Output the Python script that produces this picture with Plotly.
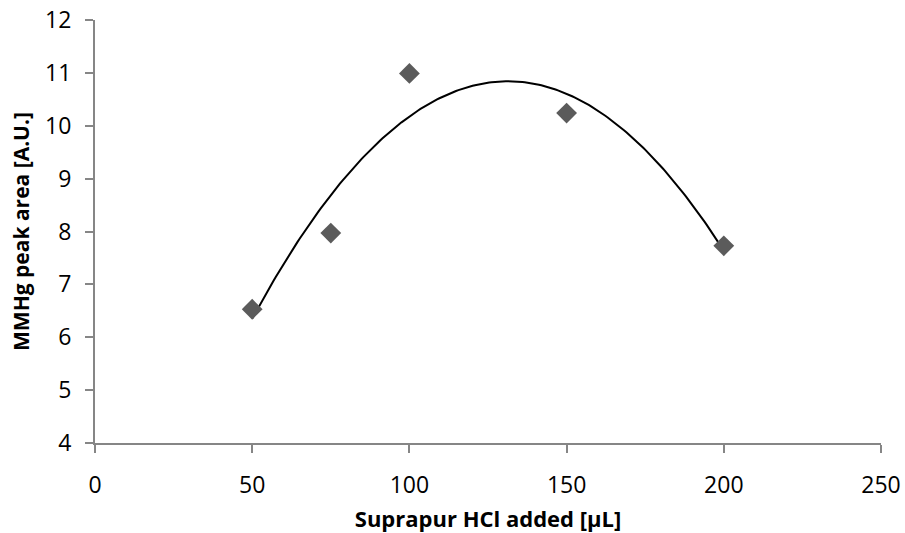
import numpy as np
import plotly.graph_objects as go

hcl_added = [50, 75, 100, 150, 200]
peak_area = [6.53, 7.97, 10.99, 10.24, 7.73]

x_ticks = [0, 50, 100, 150, 200, 250]
y_ticks = [4, 5, 6, 7, 8, 9, 10, 11, 12]

# Polynomial (order 2) trendline fitted to the data, like the spreadsheet's trendline
coef = np.polyfit(hcl_added, peak_area, 2)
xf = np.linspace(min(hcl_added), max(hcl_added), 200)
yf = np.polyval(coef, xf)

fig = go.Figure()
fig.add_trace(go.Scatter(x=xf, y=yf, mode="lines",
                         line=dict(color="black", width=2), showlegend=False,
                         hoverinfo="skip"))
fig.add_trace(go.Scatter(x=hcl_added, y=peak_area, mode="markers",
                         marker=dict(symbol="diamond", size=16, color="#5b5b5b",
                                     line=dict(width=0)),
                         showlegend=False))

font_family = "'Open Sans', sans-serif"
axis_common = dict(showgrid=False, zeroline=False, showline=True,
                   linecolor="#868686", linewidth=2, ticks="outside",
                   tickcolor="#868686", tickwidth=2, ticklen=8,
                   automargin=False, ticklabeloverflow="allow",
                   tickfont=dict(family=font_family, size=23, color="black"))

fig.update_xaxes(range=[0, 250], tickvals=x_ticks, ticklabelstandoff=12,
                 **axis_common,
                 title=dict(text="<b>Suprapur HCl added [µL]</b>",
                            font=dict(family=font_family, size=22, color="black"),
                            standoff=14))
fig.update_yaxes(range=[4, 12], tickvals=y_ticks, ticklabelstandoff=9,
                 **axis_common,
                 title=dict(text="<b>MMHg peak area [A.U.]</b>",
                            font=dict(family=font_family, size=21, color="black"),
                            standoff=10))

fig.update_layout(width=905, height=533,
                  margin=dict(l=95, r=24, t=20, b=90),
                  plot_bgcolor="white", paper_bgcolor="white")

fig.write_html("out.html",
               config={"displayModeBar": False},
               post_script="document.body.style.margin='0';"
                           "document.body.style.overflow='hidden';")
